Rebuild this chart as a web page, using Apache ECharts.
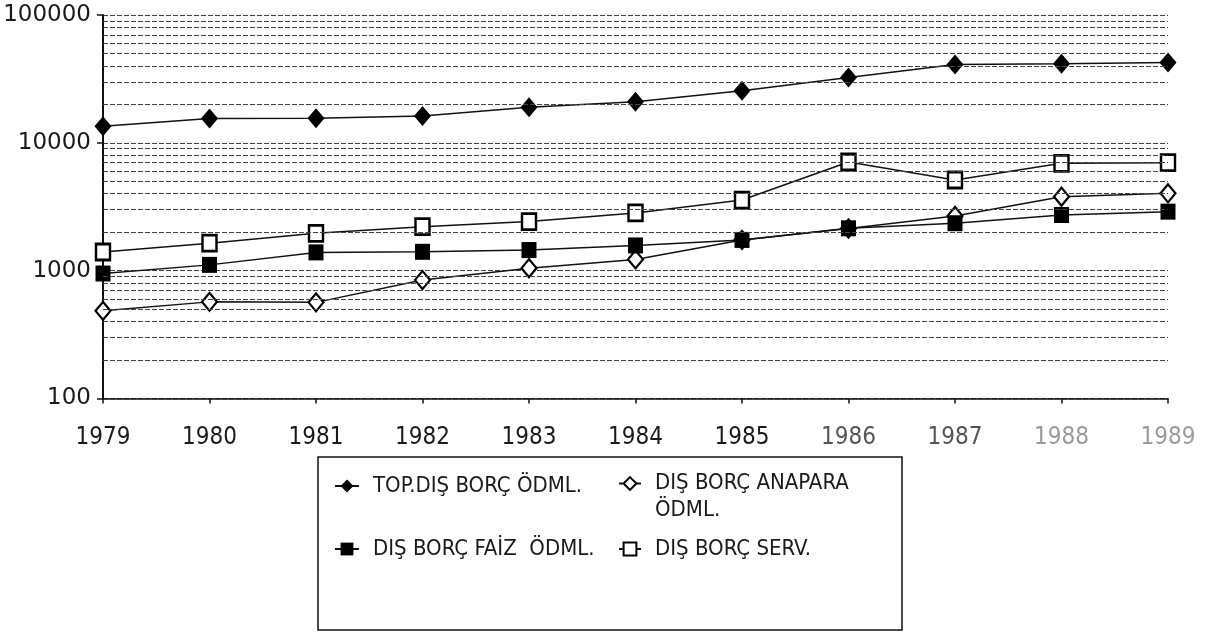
<!DOCTYPE html>
<html>
<head>
<meta charset="utf-8">
<script src="https://cdn.jsdelivr.net/npm/echarts@6/dist/echarts.min.js"></script>
<style>
  html, body { margin: 0; padding: 0; background: #fff; }
  #chart { width: 1213px; height: 639px; }
</style>
</head>
<body>
<div id="chart"></div>
<script>
// Yıllar
const years = ['1979', '1980', '1981', '1982', '1983', '1984', '1985', '1986', '1987', '1988', '1989'];

// Ödemeler (logaritmik ölçek)
const topDisBorc = [13500, 15500, 15600, 16200, 19000, 21000, 25500, 32500, 41000, 41500, 42500];
const anapara    = [485, 570, 565, 845, 1045, 1225, 1740, 2140, 2680, 3790, 4030];
const faiz       = [950, 1110, 1390, 1405, 1450, 1575, 1740, 2145, 2350, 2725, 2895];
const servis     = [1400, 1640, 1960, 2210, 2420, 2830, 3570, 7080, 5120, 6920, 7000];

// Ara ızgara çizgileri (her on katlık aralıkta 2..9)
const minorGrid = [200, 300, 400, 500, 600, 700, 800, 900,
                   2000, 3000, 4000, 5000, 6000, 7000, 8000, 9000,
                   20000, 30000, 40000, 50000, 60000, 70000, 80000, 90000];

const NAMES = {
  top: 'TOP.DIŞ BORÇ ÖDML.',
  ana: 'DIŞ BORÇ ANAPARA ÖDML.',
  faiz: 'DIŞ BORÇ FAİZ  ÖDML.',
  serv: 'DIŞ BORÇ SERV.'
};

const narrow = "'Liberation Sans Narrow', 'DejaVu Sans Condensed', 'Liberation Sans', sans-serif";
const gridLine = { color: '#444', width: 1, type: [5, 2] };

const chart = echarts.init(document.getElementById('chart'), null, { renderer: 'canvas' });

function legendAt(name, left, top, iconWidth, extra) {
  return Object.assign({
    data: [name],
    left: left,
    top: top,
    padding: 0,
    itemWidth: iconWidth,
    itemHeight: 16,
    selectedMode: false,
    textStyle: {
      fontFamily: narrow,
      fontSize: 22,
      color: '#1a1a1a',
      padding: [0, 0, 0, 9]
    }
  }, extra || {});
}

const option = {
  animation: false,
  backgroundColor: '#fff',
  grid: { left: 103, right: 45, top: 15, bottom: 240.5, outerBoundsMode: 'none', containLabel: false },
  xAxis: {
    type: 'category',
    data: years,
    boundaryGap: false,
    axisLine: { lineStyle: { color: '#111', width: 1.5 } },
    axisTick: { show: true, length: 5, lineStyle: { color: '#111', width: 1.5 } },
    axisLabel: {
      margin: 27,
      fontFamily: narrow,
      fontSize: 24,
      color: function (value, index) {
        if (index >= 9) return '#9a9a9a';
        if (index >= 7) return '#555';
        return '#1a1a1a';
      }
    },
    splitLine: { show: false }
  },
  yAxis: {
    type: 'log',
    logBase: 10,
    min: 100,
    max: 100000,
    axisLine: { show: true, lineStyle: { color: '#111', width: 2 } },
    axisTick: { show: true, length: 6, lineStyle: { color: '#111', width: 1.5 } },
    axisLabel: {
      margin: 12,
      fontFamily: "'DejaVu Sans', sans-serif",
      fontSize: 23,
      color: '#1a1a1a',
      formatter: function (v) { return String(Math.round(v)); }
    },
    splitLine: { show: true, lineStyle: gridLine }
  },
  legend: [
    legendAt(NAMES.top, 334, 475, 24),
    legendAt(NAMES.ana, 618, 443, 22, {
      // leading empty line keeps the first text line level with the marker
      formatter: function () { return '\nDIŞ BORÇ ANAPARA\nÖDML.'; },
      textStyle: {
        fontFamily: narrow, fontSize: 22, color: '#1a1a1a',
        lineHeight: 27, padding: [0, 0, 0, 9]
      }
    }),
    legendAt(NAMES.faiz, 334, 538, 24),
    legendAt(NAMES.serv, 618, 538, 22)
  ],
  graphic: [{
    type: 'rect',
    silent: true,
    shape: { x: 318, y: 457, width: 584, height: 173 },
    style: { fill: 'none', stroke: '#111', lineWidth: 1.5 }
  }],
  series: [
    {
      name: NAMES.top,
      type: 'line',
      data: topDisBorc,
      symbol: 'diamond',
      symbolSize: [17, 20],
      lineStyle: { color: '#111', width: 1.5 },
      itemStyle: { color: '#000' },
      markLine: {
        silent: true,
        symbol: 'none',
        label: { show: false },
        lineStyle: gridLine,
        data: minorGrid.map(function (v) { return { yAxis: v }; })
      }
    },
    {
      name: NAMES.ana,
      type: 'line',
      data: anapara,
      symbol: 'diamond',
      symbolSize: [15, 18],
      lineStyle: { color: '#111', width: 1.5 },
      itemStyle: { color: '#fff', borderColor: '#000', borderWidth: 2.2 }
    },
    {
      name: NAMES.faiz,
      type: 'line',
      data: faiz,
      symbol: 'rect',
      symbolSize: [15, 16],
      lineStyle: { color: '#111', width: 1.5 },
      itemStyle: { color: '#000' }
    },
    {
      name: NAMES.serv,
      type: 'line',
      data: servis,
      symbol: 'rect',
      symbolSize: [14, 16],
      lineStyle: { color: '#111', width: 1.5 },
      itemStyle: { color: '#fff', borderColor: '#000', borderWidth: 2.6 }
    }
  ]
};

chart.setOption(option);
</script>
</body>
</html>
